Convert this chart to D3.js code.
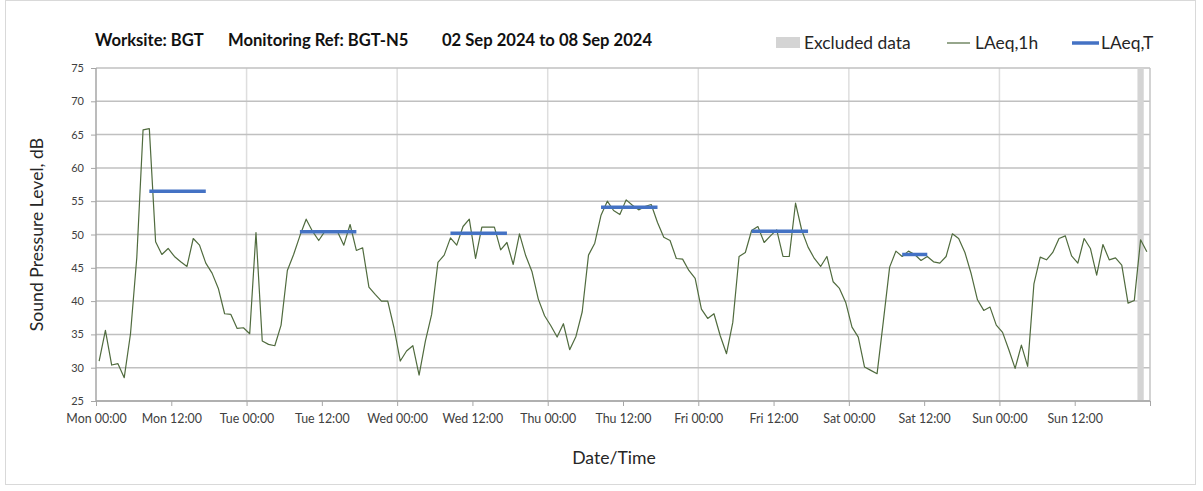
<!DOCTYPE html>
<html>
<head>
<meta charset="utf-8">
<script src="https://cdn.jsdelivr.net/npm/d3@7"></script>
<style>
    body { margin: 0; background: #fff; }
    svg { display: block; font-family: Lato, "Open Sans", sans-serif; }
</style>
</head>
<body>
<div id="body"></div>
<script>
// hourly LAeq,1h values, one array per day
const dayNames = ['Mon', 'Tue', 'Wed', 'Thu', 'Fri', 'Sat', 'Sun'];
const monLevels = [31.0, 35.6, 30.4, 30.6, 28.5, 35.1, 46.5, 65.7, 65.9, 48.9, 47.0, 47.9,
                   46.7, 45.9, 45.2, 49.4, 48.4, 45.7, 44.2, 41.9, 38.1, 38.0, 35.9, 36.0];
const tueLevels = [35.1, 50.3, 34.0, 33.5, 33.3, 36.4, 44.6, 47.0, 49.8, 52.3, 50.5, 49.1,
                   50.5, 50.6, 50.4, 48.4, 51.5, 47.6, 48.0, 42.1, 41.0, 40.0, 40.0, 36.0];
const wedLevels = [31.0, 32.5, 33.3, 28.9, 34.0, 38.0, 45.8, 46.9, 49.5, 48.4, 51.2, 52.3,
                   46.4, 51.1, 51.1, 51.1, 47.7, 48.8, 45.5, 50.1, 46.8, 44.4, 40.3, 37.8];
const thuLevels = [36.3, 34.6, 36.6, 32.7, 34.7, 38.4, 46.9, 48.7, 52.9, 55.0, 53.6, 53.0,
                   55.2, 54.4, 53.7, 54.2, 54.5, 51.8, 49.6, 49.1, 46.4, 46.3, 44.6, 43.4];
const friLevels = [38.8, 37.4, 38.1, 34.8, 32.1, 36.8, 46.7, 47.3, 50.6, 51.2, 48.8, 49.8,
                   50.7, 46.7, 46.7, 54.7, 50.6, 48.1, 46.4, 45.2, 46.7, 42.9, 41.9, 39.8];
const satLevels = [36.1, 34.6, 30.1, 29.6, 29.1, 37.0, 45.1, 47.5, 46.7, 47.5, 47.0, 46.1,
                   46.7, 45.9, 45.7, 46.7, 50.1, 49.4, 47.3, 44.1, 40.2, 38.6, 39.1, 36.4];
const sunLevels = [35.3, 32.7, 29.9, 33.4, 30.2, 42.6, 46.6, 46.2, 47.3, 49.4, 49.8, 46.8,
                   45.7, 49.4, 47.9, 43.9, 48.5, 46.2, 46.5, 45.4, 39.7, 40.1, 49.2, 47.4];

// LAeq,T over the assessment periods (day index, first hour, last hour, level)
const periodDays = [0, 1, 2, 3, 4, 5];
const periodFirstHour = [8, 8, 8, 8, 8, 8];
const periodLastHour = [17, 17, 17, 17, 17, 12];
const periodLevels = [56.5, 50.4, 50.2, 54.1, 50.5, 47.0];

// excluded data window, hours from Mon 00:00
const excludedFrom = [166];
const excludedTo = [167];

const yTicks = [25, 30, 35, 40, 45, 50, 55, 60, 65, 70, 75];
const xTickHours = d3.range(0, 169, 12);

const width = 1203, height = 491;
const margins = {left: 96, right: 53, top: 68, bottom: 90};
const lineColor = '#506b3e';
const blue = '#4472c4';
const textColor = '#404040';

const hourly = [].concat(monLevels, tueLevels, wedLevels, thuLevels, friLevels, satLevels, sunLevels);

const x = d3.scaleLinear().domain([0, 168]).range([margins.left, width - margins.right]);
const y = d3.scaleLinear().domain([25, 75]).range([height - margins.bottom, margins.top]);

const svg = d3.select('#body')
    .append('svg')
    .attr('width', width)
    .attr('height', height);

// outer chart frame
svg.append('rect')
    .attr('x', 5.5).attr('y', 0.5)
    .attr('width', 1190).attr('height', 484)
    .attr('fill', 'none')
    .attr('stroke', '#d9d9d9');

// gridlines
svg.append('g')
    .selectAll('line')
    .data(d3.range(1, 7))
    .enter()
    .append('line')
    .attr('x1', d => x(d * 24)).attr('x2', d => x(d * 24))
    .attr('y1', y(75)).attr('y2', y(25))
    .attr('stroke', '#dedede')
    .attr('stroke-width', 1.5);

svg.append('g')
    .selectAll('line')
    .data(yTicks)
    .enter()
    .append('line')
    .attr('x1', x(0)).attr('x2', x(168))
    .attr('y1', d => y(d)).attr('y2', d => y(d))
    .attr('stroke', '#c0c0c0')
    .attr('stroke-width', 1.5);

// excluded data band
svg.append('g')
    .selectAll('rect')
    .data(excludedFrom)
    .enter()
    .append('rect')
    .attr('x', d => x(d))
    .attr('width', (d, i) => x(excludedTo[i]) - x(d))
    .attr('y', y(75))
    .attr('height', y(25) - y(75))
    .attr('fill', '#d4d4d4');

// plot frame
svg.append('line')
    .attr('x1', x(168)).attr('x2', x(168))
    .attr('y1', y(75)).attr('y2', y(25))
    .attr('stroke', '#c4c4c4').attr('stroke-width', 1.5);

// axes
const yAxis = d3.axisLeft(y).tickValues(yTicks).tickSize(5).tickPadding(7);
const yG = svg.append('g')
    .attr('transform', `translate(${x(0)},0)`)
    .call(yAxis);
yG.selectAll('.tick line').attr('stroke', '#a6a6a6');
yG.select('.domain').attr('stroke', '#a6a6a6').attr('stroke-width', 1.5).attr('d', `M0,${y(75)}V${y(25)}`);
yG.selectAll('text').attr('fill', textColor).style('font-size', '11px').style('font-family', 'Lato');

const xAxis = d3.axisBottom(x).tickValues(xTickHours).tickSize(5).tickPadding(8)
    .tickFormat(h => h >= 168 ? '' : `${dayNames[Math.floor(h / 24)]} ${h % 24 === 0 ? '00:00' : '12:00'}`);
const xG = svg.append('g')
    .attr('transform', `translate(0,${y(25)})`)
    .call(xAxis);
xG.selectAll('.tick line').attr('stroke', '#a6a6a6');
xG.select('.domain').attr('stroke', '#a6a6a6').attr('stroke-width', 1.5).attr('d', `M${x(0)},0H${x(168)}`);
xG.selectAll('text').attr('fill', textColor).style('font-size', '12.4px').style('font-family', 'Lato');

// LAeq,1h
const line = d3.line()
    .x((d, i) => x(i + 0.5))
    .y(d => y(d));
svg.append('path')
    .datum(hourly)
    .attr('d', line)
    .attr('fill', 'none')
    .attr('stroke', lineColor)
    .attr('stroke-width', 1.2)
    .attr('stroke-linejoin', 'round');

// LAeq,T
svg.append('g')
    .selectAll('line')
    .data(periodDays)
    .enter()
    .append('line')
    .attr('x1', (d, i) => x(d * 24 + periodFirstHour[i] + 0.5))
    .attr('x2', (d, i) => x(d * 24 + periodLastHour[i] + 0.5))
    .attr('y1', (d, i) => y(periodLevels[i]))
    .attr('y2', (d, i) => y(periodLevels[i]))
    .attr('stroke', blue)
    .attr('stroke-width', 3.5);

// title
const title = svg.append('text')
    .attr('y', 46)
    .attr('fill', '#111')
    .style('font-size', '16.6px')
    .style('font-weight', 'bold');
title.append('tspan').attr('x', 95).text('Worksite: BGT');
title.append('tspan').attr('x', 228).text('Monitoring Ref: BGT-N5');
title.append('tspan').attr('x', 442).text('02 Sep 2024 to 08 Sep 2024');

// legend
const legend = svg.append('g').style('font-size', '17.4px').attr('fill', '#262626');
legend.append('rect').attr('x', 776).attr('y', 37).attr('width', 24).attr('height', 11).attr('fill', '#d4d4d4');
legend.append('text').attr('x', 804).attr('y', 49).text('Excluded data');
legend.append('line').attr('x1', 947).attr('x2', 970).attr('y1', 43).attr('y2', 43).attr('stroke', lineColor).attr('stroke-width', 1.2);
legend.append('text').attr('x', 975).attr('y', 49).text('LAeq,1h');
legend.append('line').attr('x1', 1072).attr('x2', 1099).attr('y1', 43).attr('y2', 43).attr('stroke', blue).attr('stroke-width', 3.5);
legend.append('text').attr('x', 1101).attr('y', 49).text('LAeq,T');

// axis titles
svg.append('text')
    .attr('transform', `translate(43,${(y(25) + y(75)) / 2}) rotate(-90)`)
    .attr('text-anchor', 'middle')
    .attr('fill', '#262626')
    .style('font-size', '17.6px')
    .text('Sound Pressure Level, dB');

svg.append('text')
    .attr('x', 614)
    .attr('y', 464)
    .attr('text-anchor', 'middle')
    .attr('fill', '#262626')
    .style('font-size', '17.6px')
    .text('Date/Time');
</script>
</body>
</html>
